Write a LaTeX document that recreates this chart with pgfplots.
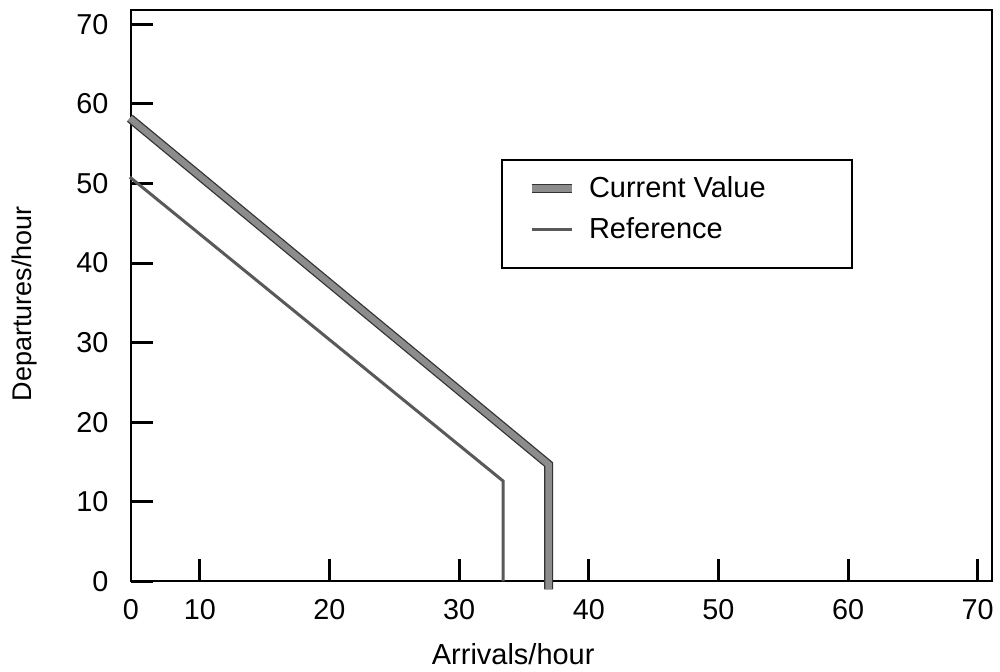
\documentclass[border=0pt]{standalone}
\usepackage{pgfplots}
\pgfplotsset{compat=1.18}
\usepackage{fontspec}
\setmainfont{Liberation Sans}
\newcommand{\lent}[1]{\makebox[117.3pt][l]{#1}}
\begin{document}
\begin{tikzpicture}
\useasboundingbox (-65.5pt,-45pt) rectangle (435pt,291pt);
\begin{axis}[
  scale only axis, width=431pt, height=286pt,
  at={(0,0)}, anchor=south west,
  xmin=4.68, xmax=71.1, ymin=0, ymax=71.8,
  xtick={10,20,...,70}, ytick={0,10,...,70},
  extra x ticks={4.68}, extra x tick labels={0},
  extra x tick style={major tick length=0pt},
  tick align=inside, xtick pos=bottom, ytick pos=left,
  major tick length=11pt,
  tick style={line width=1.5pt, black},
  axis line style={line width=1pt},
  font=\fontsize{14.4}{17}\selectfont,
  /pgf/number format/assume math mode=true,
  yticklabel style={inner sep=0pt, xshift=-11pt},
  xticklabel style={inner sep=0pt, yshift=-9pt},
  xlabel={Arrivals/hour}, ylabel={Departures/hour},
  xlabel style={at={(axis description cs:0.444,-0.1451)}, anchor=base,
    font=\fontsize{14.5}{17}\selectfont},
  ylabel style={at={(axis description cs:-0.123,0.486)}, anchor=center,
    font=\fontsize{13.5}{16}\selectfont},
  clip=false,
  legend image code/.code={\draw[#1] (0pt,0pt) -- (20pt,0pt); \path (0pt,-12pt);},
  legend style={at={(axis description cs:0.430,0.740)}, anchor=north west,
    draw=black, line width=1pt, inner xsep=12.5pt, inner ysep=6.5pt,
    column sep=4.5pt, row sep=-1.5pt, cells={anchor=west},
    font=\fontsize{14.5}{17}\selectfont},
]
\addplot[draw=black!80, double=black!45, double distance=3.2pt, line width=0.65pt]
  coordinates {(4.6,58.2) (36.9,14.7) (36.9,-1)};
\addlegendentry{\lent{Current Value}}
\addplot[draw=black!65, line width=1.5pt]
  coordinates {(4.6,50.8) (33.4,12.6) (33.4,0)};
\addlegendentry{\lent{Reference}}
\end{axis}
\end{tikzpicture}
\end{document}
